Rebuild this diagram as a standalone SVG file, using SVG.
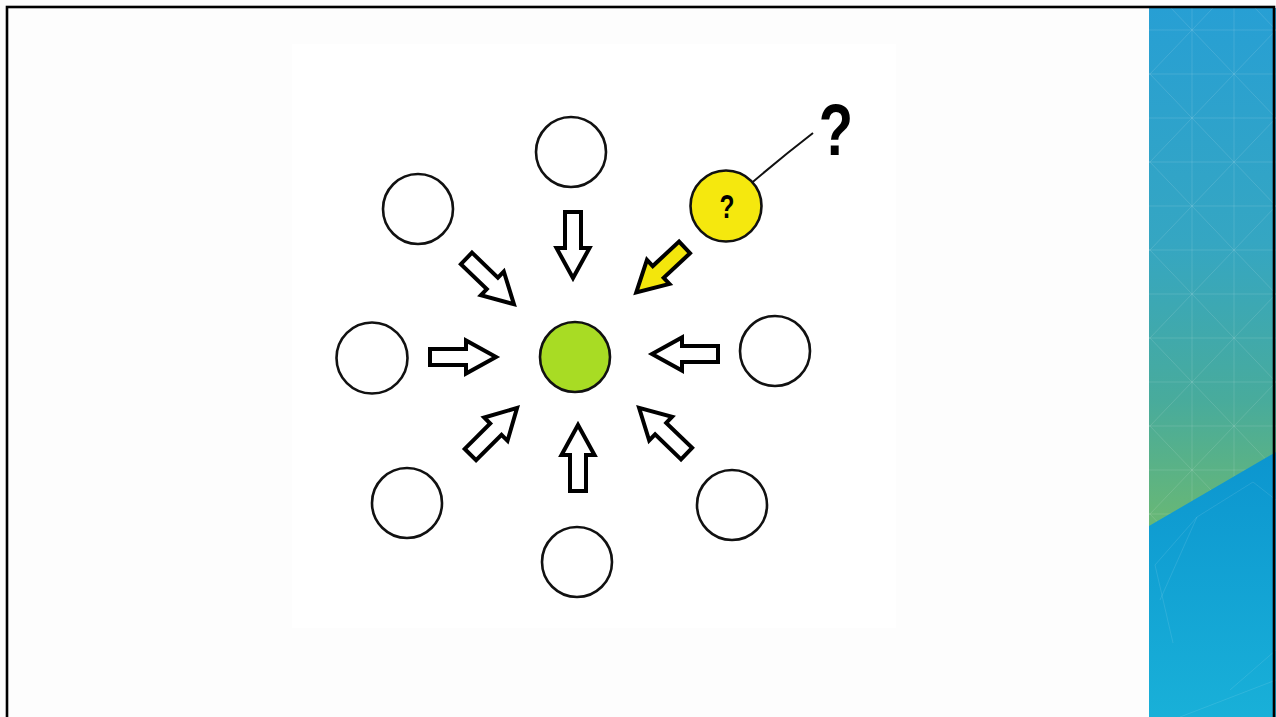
<svg xmlns="http://www.w3.org/2000/svg" width="1276" height="717" viewBox="0 0 1276 717">
  <defs>
    <style>
      .node { fill: #ffffff; stroke: #111; stroke-width: 2.6; }
      .arrow { fill: #ffffff; stroke: #000; stroke-width: 4; stroke-linejoin: miter; stroke-miterlimit: 10; }
      .arrow.yellow { fill: #f3e60c; }
      .grid { stroke: #ffffff; stroke-opacity: 0.12; stroke-width: 1; fill: none; }
      .net { stroke: #ffffff; stroke-opacity: 0.1; stroke-width: 1; fill: none; }
      .q { font-family: "Liberation Sans", Arial, sans-serif; fill: #000; text-anchor: middle; }
    </style>
    <path id="arr" d="M2,-8 H38 V-16.5 L68,0 L38,16.5 V8 H2 Z"/>
    <linearGradient id="panelTop" x1="0" y1="8" x2="0" y2="530" gradientUnits="userSpaceOnUse">
      <stop offset="0" stop-color="#279fd4"/>
      <stop offset="0.45" stop-color="#35a6c2"/>
      <stop offset="0.75" stop-color="#48ab9c"/>
      <stop offset="1" stop-color="#6ab873"/>
    </linearGradient>
    <linearGradient id="panelBot" x1="0" y1="450" x2="0" y2="717" gradientUnits="userSpaceOnUse">
      <stop offset="0" stop-color="#0c95cf"/>
      <stop offset="1" stop-color="#19b0d8"/>
    </linearGradient>
    <clipPath id="topClip">
      <polygon points="1149,8 1276,8 1276,452 1149,526"/>
    </clipPath>
  </defs>

  <!-- slide background -->
  <rect x="0" y="0" width="1276" height="717" fill="#fdfdfd"/>
  <rect x="292" y="44" width="604" height="584" fill="#ffffff"/>

  <!-- right decorative panel -->
  <g id="panel">
    <rect x="1149" y="8" width="127" height="709" fill="url(#panelBot)"/>
    <polygon points="1149,8 1276,8 1276,452 1149,526" fill="url(#panelTop)"/>
    <g clip-path="url(#topClip)" class="grid">
      <path d="M1149,30 H1276 M1149,74 H1276 M1149,118 H1276 M1149,162 H1276 M1149,206 H1276 M1149,250 H1276 M1149,294 H1276 M1149,338 H1276 M1149,382 H1276 M1149,426 H1276 M1149,470 H1276 M1149,514 H1276"/>
      <path d="M1192,8 V530 M1234,8 V530"/>
      <path d="M1149,-103 L1276,30 M1149,-15 L1276,118 M1149,73 L1276,206 M1149,161 L1276,294 M1149,249 L1276,382 M1149,337 L1276,470 M1149,425 L1276,558 M1149,513 L1276,646"/>
      <path d="M1149,75 L1276,-58 M1149,163 L1276,30 M1149,251 L1276,118 M1149,339 L1276,206 M1149,427 L1276,294 M1149,515 L1276,382 M1149,603 L1276,470 M1149,691 L1276,558"/>
    </g>
    <g class="net">
      <path d="M1155,565 L1197,517 L1253,482 L1276,500 M1155,565 L1173,643 M1197,517 L1160,600 M1180,717 L1276,680 M1230,690 L1276,650"/>
    </g>
  </g>

  <!-- slide frame -->
  <rect x="7" y="7" width="1267" height="720" fill="none" stroke="#000" stroke-width="2.6"/>

  <!-- connectors -->
  <g id="connectors">
    <use href="#arr" class="arrow" transform="translate(573,210) rotate(90)"/>
    <use href="#arr" class="arrow" transform="translate(428,357)"/>
    <use href="#arr" class="arrow" transform="translate(720,354) rotate(180)"/>
    <use href="#arr" class="arrow" transform="translate(578,493) rotate(-90)"/>
    <use href="#arr" class="arrow" transform="translate(465,257) rotate(44)"/>
    <use href="#arr" class="arrow yellow" transform="translate(686,246) rotate(137)"/>
    <use href="#arr" class="arrow" transform="translate(469,456) rotate(-45)"/>
    <use href="#arr" class="arrow" transform="translate(688,455) rotate(-136)"/>
    <path d="M741,192 Q778,160 813,133" fill="none" stroke="#111" stroke-width="2"/>
  </g>

  <!-- nodes -->
  <g id="node-center"><circle cx="575" cy="357" r="35" fill="#a8dc24" stroke="#111" stroke-width="2.6"/></g>
  <g id="node-top"><circle class="node" cx="571" cy="152" r="35"/></g>
  <g id="node-top-left"><circle class="node" cx="418" cy="209" r="35"/></g>
  <g id="node-left"><circle class="node" cx="372" cy="358" r="35.5"/></g>
  <g id="node-bottom-left"><circle class="node" cx="407" cy="503" r="35"/></g>
  <g id="node-bottom"><circle class="node" cx="577" cy="562" r="35"/></g>
  <g id="node-bottom-right"><circle class="node" cx="732" cy="505" r="35"/></g>
  <g id="node-right"><circle class="node" cx="775" cy="351" r="35"/></g>
  <g id="node-unknown">
    <circle cx="726" cy="206" r="35.5" fill="#f5e80e" stroke="#111" stroke-width="2.6"/>
    <text class="q" font-size="34" font-weight="bold" transform="translate(727,218) scale(0.72,1)">?</text>
  </g>
  <g id="label-question">
    <text class="q" font-size="72" font-weight="bold" transform="translate(836,155) scale(0.78,1)">?</text>
  </g>
</svg>
